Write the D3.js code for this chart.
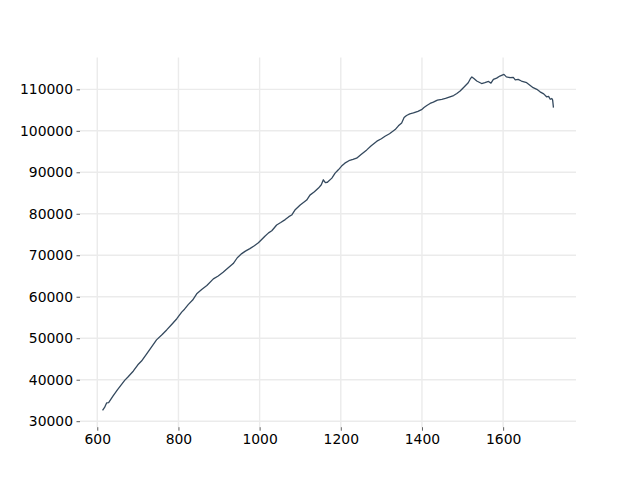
<!DOCTYPE html>
<html>
<head>
<meta charset="utf-8">
<script src="https://cdn.jsdelivr.net/npm/d3@7"></script>
<style>
  body { margin: 0; background: #fff; }
  text { font-family: "DejaVu Sans", sans-serif; }
</style>
</head>
<body>
<div id="chart"></div>
<script>
// values
var xValues = [613, 618, 623, 628, 639, 650, 668, 675, 689, 700, 709, 720, 730, 746, 760, 771, 785, 796,
  808, 815, 824, 835, 845, 858, 870, 886, 898, 910, 922, 935, 945, 956, 965, 976, 987, 997, 1005, 1013,
  1022, 1030, 1042, 1052, 1063, 1072, 1079, 1087, 1100, 1108, 1116, 1124, 1135, 1145, 1152, 1157, 1162,
  1167, 1178, 1186, 1194, 1202, 1210, 1220, 1230, 1239, 1250, 1264, 1275, 1289, 1300, 1309, 1320, 1334,
  1342, 1350, 1356, 1362, 1370, 1379, 1390, 1399, 1405, 1412, 1420, 1428, 1438, 1449, 1458, 1469, 1478,
  1486, 1494, 1502, 1508, 1514, 1519, 1523, 1528, 1535, 1541, 1547, 1555, 1564, 1570, 1576, 1584, 1592,
  1602, 1608, 1617, 1625, 1630, 1637, 1645, 1658, 1666, 1674, 1683, 1691, 1700, 1707, 1712, 1716, 1720,
  1722, 1724];
var yValues = [32600, 33300, 34400, 34500, 36100, 37600, 39900, 40600, 42100, 43600, 44500, 46000, 47400,
  49600, 50900, 52000, 53500, 54700, 56300, 57000, 58100, 59200, 60700, 61800, 62700, 64300, 65000, 65900,
  66900, 68000, 69400, 70400, 71000, 71600, 72300, 73000, 73800, 74600, 75400, 75900, 77300, 77900, 78600,
  79300, 79700, 80900, 82100, 82700, 83300, 84500, 85300, 86200, 87000, 88200, 87500, 87600, 88600, 89800,
  90600, 91500, 92200, 92800, 93100, 93400, 94300, 95400, 96400, 97500, 98100, 98700, 99300, 100300,
  101200, 101900, 103200, 103700, 104100, 104300, 104700, 105100, 105600, 106100, 106600, 106900, 107400,
  107600, 107800, 108200, 108500, 109000, 109600, 110400, 111000, 111600, 112500, 113000, 112600, 112000,
  111700, 111400, 111600, 111900, 111500, 112400, 112700, 113200, 113600, 113000, 112800, 112900, 112300,
  112400, 112000, 111600, 111000, 110400, 110000, 109400, 108900, 108200, 108300, 107600, 107800, 107400,
  105600];
var xTicks = [600, 800, 1000, 1200, 1400, 1600];
var yTicks = [30000, 40000, 50000, 60000, 70000, 80000, 90000, 100000, 110000];

var data = xValues.map(function(d, i) { return {x: d, y: yValues[i]}; });

var margin = {top: 57.6, right: 64, bottom: 52.8, left: 80},
    width = 640 - margin.left - margin.right,
    height = 480 - margin.top - margin.bottom;

var svg = d3.select("#chart")
  .append("svg")
    .attr("width", 640)
    .attr("height", 480)
  .append("g")
    .attr("transform", "translate(" + margin.left + "," + margin.top + ")");

// matplotlib style 5% padding around the data
var xExt = d3.extent(data, function(d) { return d.x; }),
    yExt = d3.extent(data, function(d) { return d.y; }),
    xPad = (xExt[1] - xExt[0]) * 0.05,
    yPad = (yExt[1] - yExt[0]) * 0.05;

var x = d3.scaleLinear()
  .domain([xExt[0] - xPad, xExt[1] + xPad])
  .range([0, width]);

var y = d3.scaleLinear()
  .domain([yExt[0] - yPad, yExt[1] + yPad])
  .range([height, 0]);

// grid
svg.append("g")
  .selectAll("line")
  .data(xTicks)
  .enter().append("line")
    .attr("x1", function(d) { return x(d); })
    .attr("x2", function(d) { return x(d); })
    .attr("y1", 0)
    .attr("y2", height)
    .attr("stroke", "#ebebeb")
    .attr("stroke-width", 1.4);

svg.append("g")
  .selectAll("line")
  .data(yTicks)
  .enter().append("line")
    .attr("x1", 0)
    .attr("x2", width)
    .attr("y1", function(d) { return y(d); })
    .attr("y2", function(d) { return y(d); })
    .attr("stroke", "#ebebeb")
    .attr("stroke-width", 1.4);

// axes without spines
var xAxis = svg.append("g")
  .attr("transform", "translate(0," + height + ")")
  .call(d3.axisBottom(x).tickValues(xTicks).tickSize(3.5).tickPadding(3.5).tickFormat(d3.format("d")));

var yAxis = svg.append("g")
  .call(d3.axisLeft(y).tickValues(yTicks).tickSize(3.5).tickPadding(3.5).tickFormat(d3.format("d")));

[xAxis, yAxis].forEach(function(a) {
  a.select(".domain").remove();
  a.selectAll(".tick line").attr("stroke", "#333").attr("stroke-width", 0.8);
  a.selectAll(".tick text").attr("fill", "#000").style("font-size", "13.9px");
});

// the line
svg.append("path")
  .datum(data)
  .attr("fill", "none")
  .attr("stroke", "#34495e")
  .attr("stroke-width", 1.3)
  .attr("stroke-linejoin", "round")
  .attr("d", d3.line()
    .x(function(d) { return x(d.x); })
    .y(function(d) { return y(d.y); })
  );
</script>
</body>
</html>
